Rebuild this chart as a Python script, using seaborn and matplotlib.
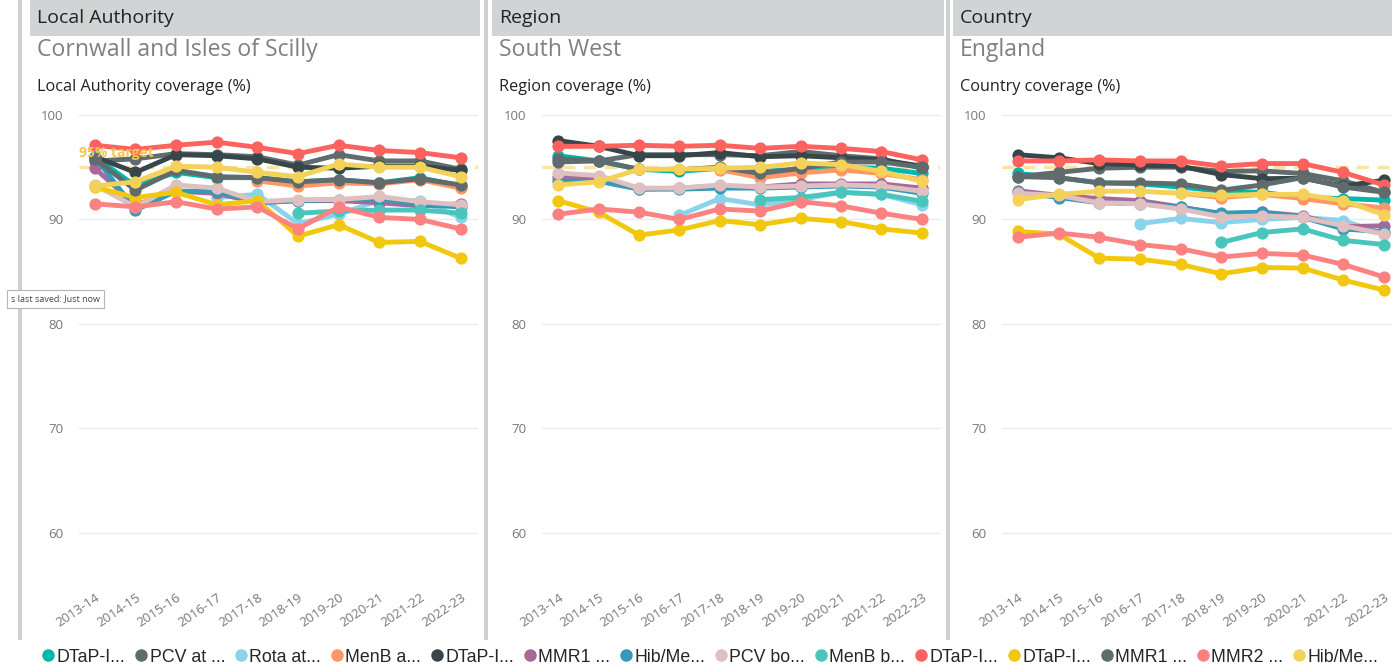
import seaborn as sns
import matplotlib.pyplot as plt
import matplotlib.patches as mpatches
from matplotlib.lines import Line2D
import numpy as np
import pandas as pd

nan = np.nan

years = ['2013-14', '2014-15', '2015-16', '2016-17', '2017-18',
         '2018-19', '2019-20', '2020-21', '2021-22', '2022-23']

series_names = ['DTaP-IPV-Hib-HepB at 12 months', 'PCV at 12 months', 'Rota at 12 months',
                'MenB at 12 months', 'DTaP-IPV-Hib-HepB at 24 months', 'MMR1 at 24 months',
                'Hib/MenC booster at 24 months', 'PCV booster at 24 months',
                'MenB booster at 24 months', 'DTaP-IPV-Hib-HepB at 5 years',
                'DTaP-IPV booster at 5 years', 'MMR1 at 5 years', 'MMR2 at 5 years',
                'Hib/MenC booster at 5 years']
legend_labels = ['DTaP-I...', 'PCV at ...', 'Rota at...', 'MenB a...', 'DTaP-I...',
                 'MMR1 ...', 'Hib/Me...', 'PCV bo...', 'MenB b...', 'DTaP-I...',
                 'DTaP-I...', 'MMR1 ...', 'MMR2 ...', 'Hib/Me...']
colors = ['#01B8AA', '#5F6B6D', '#8AD4EB', '#FE9666', '#374649', '#A66999', '#3599B8',
          '#DFBFBF', '#4AC5BB', '#FD625E', '#F2C80F', '#5F6B6D', '#FB8281', '#F4D25A']

# coverage (%) per series, legend order, one row per series
la_coverage = [
    [96.0, 93.2, 94.5, 94.0, 94.0, 93.6, 93.8, 93.5, 94.0, 93.2],
    [95.6, 95.8, 96.3, 96.2, 96.0, 95.2, 96.2, 95.6, 95.6, 94.8],
    [nan, nan, nan, 92.1, 92.4, 89.6, 90.5, 91.8, 91.8, 90.2],
    [nan, nan, nan, nan, 93.7, 93.2, 93.5, 93.4, 93.8, 93.0],
    [96.0, 94.5, 96.2, 96.1, 95.8, 95.0, 94.9, 95.1, 95.1, 94.7],
    [94.9, 91.4, 92.7, 92.5, 91.6, 91.8, 91.8, 91.6, 91.3, 91.5],
    [96.0, 90.9, 92.7, 92.7, 91.6, 91.8, 91.9, 92.0, 91.4, 91.2],
    [93.3, 91.2, 93.3, 93.0, 91.7, 91.9, 91.9, 92.2, 91.7, 91.4],
    [nan, nan, nan, nan, nan, 90.6, 90.8, 90.9, 90.9, 90.6],
    [97.1, 96.7, 97.1, 97.4, 96.9, 96.3, 97.1, 96.6, 96.4, 95.9],
    [93.1, 92.1, 92.6, 91.4, 91.8, 88.4, 89.5, 87.8, 87.9, 86.3],
    [95.8, 92.8, 94.7, 94.1, 94.0, 93.6, 93.8, 93.5, 93.9, 93.3],
    [91.5, 91.2, 91.7, 91.0, 91.2, 89.1, 91.2, 90.2, 90.0, 89.1],
    [93.2, 93.6, 95.1, 95.0, 94.5, 94.1, 95.3, 95.0, 95.0, 94.1],
]
region_coverage = [
    [96.1, 95.6, 94.8, 94.6, 94.9, 94.6, 94.8, 95.0, 94.9, 94.4],
    [95.8, 95.6, 96.2, 96.2, 96.2, 96.1, 96.5, 96.1, 95.8, 94.9],
    [nan, nan, nan, 90.4, 92.0, 91.4, 91.9, 92.6, 92.4, 91.4],
    [nan, nan, nan, nan, 94.75, 94.0, 94.45, 94.75, 94.4, 93.8],
    [97.55, 97.0, 96.1, 96.1, 96.4, 96.0, 96.1, 95.9, 95.7, 95.1],
    [94.1, 93.9, 92.9, 93.0, 93.2, 93.1, 93.4, 93.4, 93.4, 93.0],
    [93.65, 93.65, 92.9, 92.9, 93.0, 93.0, 93.1, 93.2, 93.1, 92.5],
    [94.45, 94.2, 93.0, 93.0, 93.3, 93.1, 93.2, 93.3, 93.2, 92.7],
    [nan, nan, nan, nan, nan, 91.9, 92.1, 92.6, 92.4, 91.75],
    [97.0, 97.0, 97.1, 97.0, 97.1, 96.8, 97.0, 96.8, 96.5, 95.7],
    [91.8, 90.7, 88.5, 89.0, 89.9, 89.5, 90.1, 89.8, 89.1, 88.7],
    [95.5, 95.6, 94.8, 94.75, 95.0, 94.4, 94.9, 95.5, 95.5, 95.0],
    [90.5, 91.0, 90.7, 90.0, 91.0, 90.8, 91.7, 91.3, 90.6, 90.0],
    [93.3, 93.6, 94.8, 94.8, 94.9, 95.0, 95.4, 95.25, 94.6, 93.65],
]
england_coverage = [
    [94.4, 94.0, 93.5, 93.4, 93.1, 92.7, 92.6, 92.1, 92.0, 91.85],
    [94.1, 94.5, 94.9, 95.0, 95.0, 94.6, 94.65, 94.4, 93.7, 92.6],
    [nan, nan, nan, 89.6, 90.1, 89.7, 90.0, 90.2, 89.9, 88.6],
    [nan, nan, nan, nan, 92.5, 92.1, 92.4, 92.0, 91.5, 91.1],
    [96.2, 95.9, 95.35, 95.2, 95.1, 94.3, 93.9, 93.95, 93.2, 93.75],
    [92.75, 92.3, 92.0, 91.8, 91.2, 90.5, 90.7, 90.35, 89.3, 89.4],
    [92.6, 92.1, 91.6, 91.5, 91.15, 90.6, 90.7, 90.2, 89.1, 88.8],
    [92.5, 92.3, 91.6, 91.5, 91.0, 90.25, 90.35, 90.2, 89.4, 88.6],
    [nan, nan, nan, nan, nan, 87.8, 88.75, 89.1, 88.0, 87.6],
    [95.6, 95.6, 95.7, 95.6, 95.6, 95.1, 95.35, 95.35, 94.5, 93.3],
    [88.85, 88.6, 86.3, 86.2, 85.7, 84.8, 85.4, 85.35, 84.2, 83.25],
    [94.1, 94.0, 93.5, 93.5, 93.4, 92.8, 93.3, 94.0, 93.1, 92.6],
    [88.3, 88.7, 88.3, 87.6, 87.2, 86.4, 86.75, 86.6, 85.7, 84.5],
    [91.9, 92.4, 92.7, 92.7, 92.5, 92.3, 92.4, 92.4, 91.8, 90.45],
]

panel_headers = ['Local Authority', 'Region', 'Country']
panel_areas = ['Cornwall and Isles of Scilly', 'South West', 'England']
panel_titles = ['Local Authority coverage (%)', 'Region coverage (%)', 'Country coverage (%)']
target = 95

sns.set_style("white")
plt.rcParams['font.family'] = ['Open Sans', 'DejaVu Sans']

W, H = 1392, 668
fig = plt.figure(figsize=(W / 100, H / 100), dpi=100)


def fx(x):
    return x / W


def fy(y):
    return 1 - y / H


# panel geometry in pixels: axes left/right, header box, text left
axes_px = [(79, 478), (542, 940), (1002, 1392)]
xlims = [(-0.39, 9.43), (-0.40, 9.45), (-0.39, 9.2)]
box_px = [(30, 480), (492, 944), (953, 1392)]
text_x = [37, 499, 960]

# separator bars
for x0 in [18, 484, 946]:
    fig.add_artist(mpatches.Rectangle((fx(x0), fy(640)), fx(4), 640 / H,
                                      transform=fig.transFigure, color='#CDD1D1', lw=0))

datasets = [la_coverage, region_coverage, england_coverage]
palette = dict(zip(series_names, colors))

ax_top, ax_bot = 104.5, 580
for i, cov in enumerate(datasets):
    rows = []
    for name, vals in zip(series_names, cov):
        for yr, v in zip(years, vals):
            if not np.isnan(v):
                rows.append({'year': yr, 'series': name, 'coverage': v})
    df = pd.DataFrame(rows)

    l, r = axes_px[i]
    ax = fig.add_axes([fx(l), fy(ax_bot), (r - l) / W, (ax_bot - ax_top) / H])
    ax.axhline(target, color='#FBE3A3', lw=2.5, dashes=(3.5, 2.5), zorder=1)
    sns.lineplot(data=df, x='year', y='coverage', hue='series', hue_order=series_names,
                 palette=palette, marker='o', markersize=8.8, markeredgewidth=0,
                 linewidth=3.5, legend=False, sort=False, estimator=None, ax=ax, zorder=3)
    ax.set_xlim(*xlims[i])
    ax.set_ylim(55.5, 101)
    ax.set_yticks([60, 70, 80, 90, 100])
    ax.grid(axis='y', color='#EBEBEB', lw=1)
    ax.set_axisbelow(True)
    for s in ax.spines.values():
        s.set_visible(False)
    ax.set_xlabel('')
    ax.set_ylabel('')
    ax.tick_params(axis='both', length=0, colors='#777777', labelsize=9.5)
    ax.tick_params(axis='y', pad=11)
    ax.tick_params(axis='x', pad=8)
    for lbl in ax.get_xticklabels():
        lbl.set_rotation(34)
        lbl.set_ha('right')
        lbl.set_rotation_mode('anchor')
    if i == 0:
        ax.text(-0.39, 96.4, '95% target', color='#F6C64E', fontsize=10,
                fontweight='bold', ha='left', va='center', zorder=5)

    # header box and titles
    b0, b1 = box_px[i]
    fig.add_artist(mpatches.Rectangle((fx(b0), fy(36)), (b1 - b0) / W, 36 / H,
                                      transform=fig.transFigure, color='#D0D4D4', lw=0))
    fig.text(fx(text_x[i]), fy(18), panel_headers[i], fontsize=14, color='#222222',
             ha='left', va='center')
    fig.text(fx(text_x[i]), fy(50), panel_areas[i], fontsize=16.6, color='#808080',
             ha='left', va='center')
    fig.text(fx(text_x[i]), fy(87), panel_titles[i], fontsize=11.7, color='#222222',
             ha='left', va='center')

# tooltip remnant at left edge
fig.text(fx(11), fy(299), 's last saved: Just now', fontsize=6.5, color='#444444',
         ha='left', va='center',
         bbox=dict(boxstyle='square,pad=0.45', fc='white', ec='#B5B5B5', lw=0.8))

handles = [Line2D([], [], marker='o', linestyle='', markersize=9, markeredgewidth=0,
                  color=c) for c in colors]
fig.legend(handles, legend_labels, loc='center left', bbox_to_anchor=(fx(42), fy(657)),
           ncol=14, frameon=False, handlelength=0.7, handletextpad=0.12,
           columnspacing=0.54, borderaxespad=0, borderpad=0,
           prop={'family': ['Liberation Sans', 'DejaVu Sans'], 'size': 12.8})

fig.savefig('out.png', dpi=100, facecolor='white')
plt.close(fig)
